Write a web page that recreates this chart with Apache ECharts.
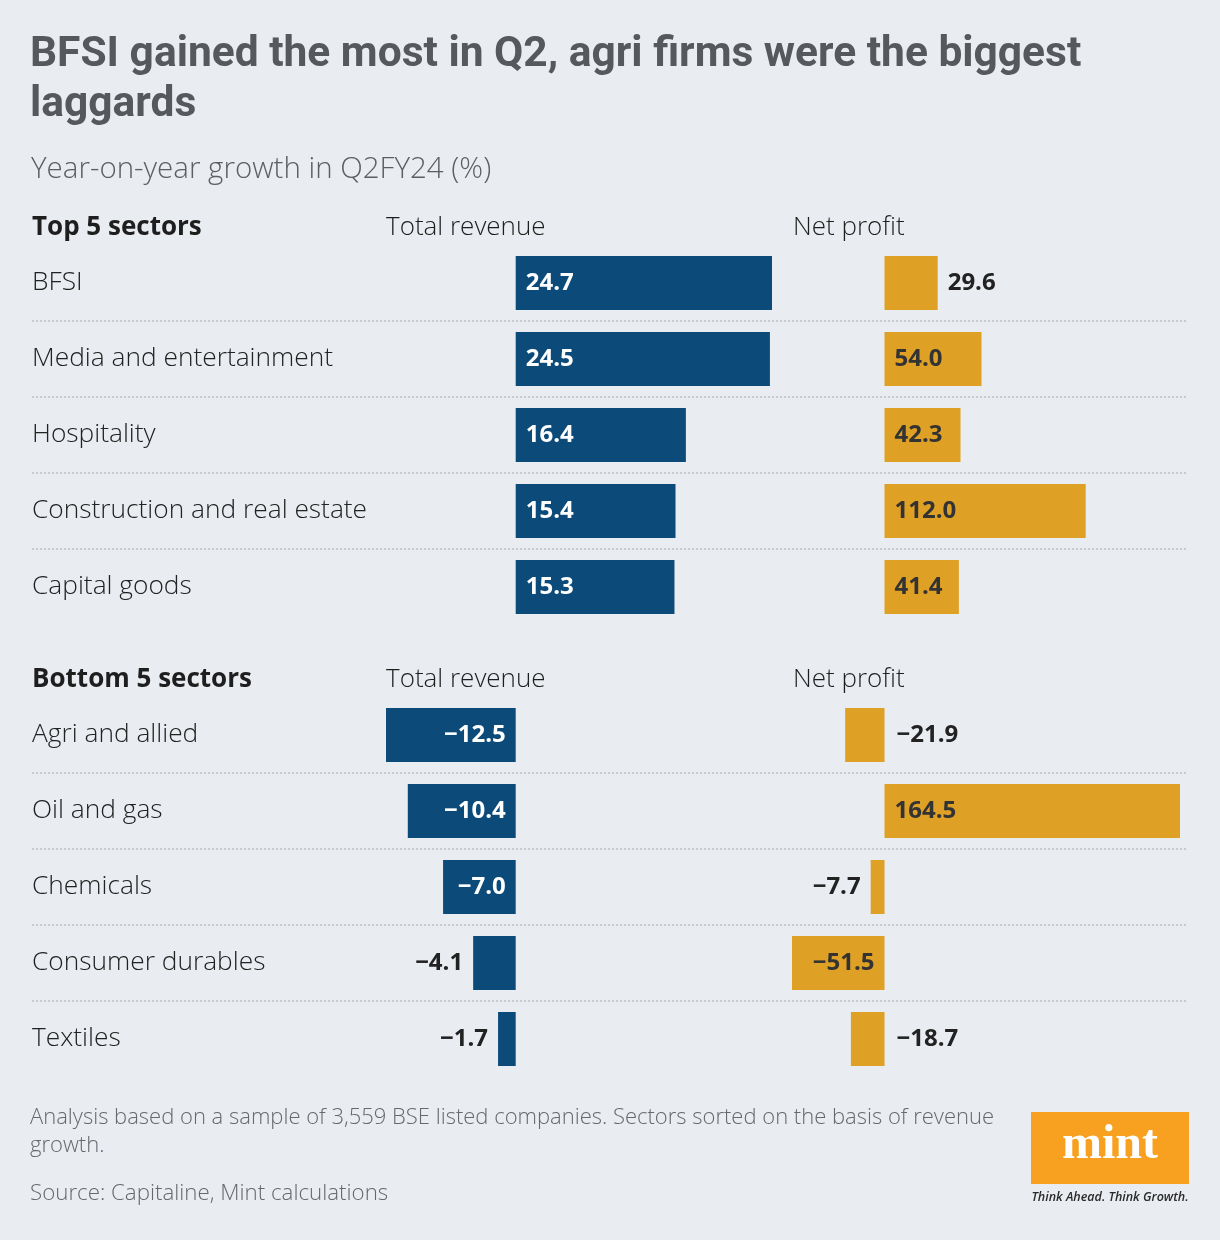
<!DOCTYPE html>
<html>
<head>
<meta charset="utf-8">
<script src="https://cdn.jsdelivr.net/npm/echarts@6/dist/echarts.min.js"></script>
<style>
html,body{margin:0;padding:0;background:#e9ecf0;}
#chart{width:1220px;height:1240px;}
</style>
</head>
<body>
<div id="chart"></div>
<script>
// ---- Data ----
const topSectors = ['BFSI', 'Media and entertainment', 'Hospitality', 'Construction and real estate', 'Capital goods'];
const topRevenue = [24.7, 24.5, 16.4, 15.4, 15.3];
const topProfit = [29.6, 54.0, 42.3, 112.0, 41.4];
const bottomSectors = ['Agri and allied', 'Oil and gas', 'Chemicals', 'Consumer durables', 'Textiles'];
const bottomRevenue = [-12.5, -10.4, -7.0, -4.1, -1.7];
const bottomProfit = [-21.9, 164.5, -7.7, -51.5, -18.7];

// label placement (styling): 'in' = inside at the zero end, 'far' = outside beyond bar end, 'zero' = outside on the zero side
const topRevenuePlace = ['in', 'in', 'in', 'in', 'in'];
const topProfitPlace = ['far', 'in', 'in', 'in', 'in'];
const bottomRevenuePlace = ['in', 'in', 'in', 'far', 'far'];
const bottomProfitPlace = ['zero', 'in', 'far', 'in', 'zero'];

const BLUE = '#0c4a79';
const GOLD = '#dfa026';
const FONT = '"Open Sans", "Noto Sans", sans-serif';

const fmt = v => (v < 0 ? '\u2212' : '') + Math.abs(v).toFixed(1);

function labelFor(v, place, insideColor) {
  let position, color = '#222';
  if (place === 'in') { position = v >= 0 ? 'insideLeft' : 'insideRight'; color = insideColor; }
  else if (place === 'far') { position = v >= 0 ? 'right' : 'left'; }
  else { position = v >= 0 ? 'left' : 'right'; }
  return {
    show: true, position: position, distance: position === 'right' && v < 0 ? 12 : 10,
    color: color, fontFamily: FONT, fontWeight: 'bold', fontSize: 24,
    formatter: p => fmt(p.value)
  };
}

function barData(values, places, insideColor) {
  return values.map((v, i) => ({ value: v, label: labelFor(v, places[i], insideColor) }));
}

const revMin = Math.min(...topRevenue, ...bottomRevenue);
const revMax = Math.max(...topRevenue, ...bottomRevenue);
const profMin = Math.min(...topProfit, ...bottomProfit);
const profMax = Math.max(...topProfit, ...bottomProfit);

const SEC_TOP = [245, 697];
const ROWH = 380;

const grids = [], xAxes = [], yAxes = [], series = [];
[[topSectors, topRevenue, topProfit, topRevenuePlace, topProfitPlace],
 [bottomSectors, bottomRevenue, bottomProfit, bottomRevenuePlace, bottomProfitPlace]].forEach((sec, s) => {
  const [cats, rev, prof, revPlace, profPlace] = sec;
  const top = SEC_TOP[s];
  // name / separator grid
  let gi = grids.length;
  grids.push({ left: 32, width: 1156, top: top, height: ROWH });
  xAxes.push({ gridIndex: gi, type: 'value', show: false, min: 0, max: 1 });
  yAxes.push({
    gridIndex: gi, type: 'category', data: cats, inverse: true,
    axisLine: { show: false }, axisTick: { show: false },
    axisLabel: { inside: true, margin: 0, color: '#222', fontFamily: FONT, fontSize: 26.3, fontWeight: 300, interval: 0 },
    splitLine: { show: true, interval: 0, showMinLine: false, showMaxLine: false,
      lineStyle: { color: '#c6c9ce', width: 2, type: [2, 2] } }
  });
  // revenue grid
  gi = grids.length;
  grids.push({ left: 386, width: 386, top: top, height: ROWH });
  xAxes.push({ gridIndex: gi, type: 'value', show: false, min: revMin, max: revMax });
  yAxes.push({ gridIndex: gi, type: 'category', data: cats, inverse: true, show: false });
  series.push({ type: 'bar', xAxisIndex: gi, yAxisIndex: gi, barWidth: 54, itemStyle: { color: BLUE },
    data: barData(rev, revPlace, '#ffffff'), silent: true });
  // profit grid
  gi = grids.length;
  grids.push({ left: 792, width: 388, top: top, height: ROWH });
  xAxes.push({ gridIndex: gi, type: 'value', show: false, min: profMin, max: profMax });
  yAxes.push({ gridIndex: gi, type: 'category', data: cats, inverse: true, show: false });
  series.push({ type: 'bar', xAxisIndex: gi, yAxisIndex: gi, barWidth: 54, itemStyle: { color: GOLD },
    data: barData(prof, profPlace, '#333333'), silent: true });
});

const hdr = (text, left, top, bold) => ({
  text: text, left: left, top: top, padding: 0,
  textStyle: { fontFamily: FONT, fontSize: 26, fontWeight: bold ? 'bold' : 300, color: '#1e1e1e', lineHeight: 34 }
});

const chart = echarts.init(document.getElementById('chart'), null, { renderer: 'canvas' });
chart.setOption({
  backgroundColor: '#e9ecf0',
  animation: false,
  title: [
    { text: 'BFSI gained the most in Q2, agri firms were the biggest\nlaggards', left: 30, top: 30, padding: 0,
      textStyle: { fontFamily: '"Liberation Sans Narrow", "Roboto", sans-serif', fontSize: 42.5, fontWeight: 'bold', color: '#55585d', lineHeight: 50 } },
    { text: 'Year-on-year growth in Q2FY24 (%)', left: 31, top: 151, padding: 0,
      textStyle: { fontFamily: FONT, fontSize: 29.5, fontWeight: 300, color: '#5b5e63', lineHeight: 38 } },
    hdr('Top 5 sectors', 32, 211, true),
    hdr('Total revenue', 386, 211, false),
    hdr('Net profit', 793, 211, false),
    hdr('Bottom 5 sectors', 32, 663, true),
    hdr('Total revenue', 386, 663, false),
    hdr('Net profit', 793, 663, false),
    { text: 'Analysis based on a sample of 3,559 BSE listed companies. Sectors sorted on the basis of revenue growth.',
      left: 30, top: 1104, padding: 0,
      textStyle: { fontFamily: FONT, fontSize: 22, fontWeight: 300, color: '#65686d', lineHeight: 28, width: 990, overflow: 'break' } },
    { text: 'Source: Capitaline, Mint calculations', left: 30, top: 1180, padding: 0,
      textStyle: { fontFamily: FONT, fontSize: 22.3, fontWeight: 300, color: '#65686d', lineHeight: 28 } }
  ],
  grid: grids,
  xAxis: xAxes,
  yAxis: yAxes,
  series: series,
  graphic: [
    { type: 'rect', left: 1031, top: 1112, shape: { width: 158, height: 72 }, style: { fill: '#f8a01f' }, silent: true },
    { type: 'text', x: 1110, y: 1146, style: { text: 'mint', fill: '#ffffff', font: 'bold 48px "Liberation Serif", "DejaVu Serif", serif', align: 'center', verticalAlign: 'middle' }, silent: true },
    { type: 'text', x: 1110, y: 1197, style: { text: 'Think Ahead. Think Growth.', fill: '#2a2a2a', font: 'italic 600 12.5px "Open Sans", sans-serif', align: 'center', verticalAlign: 'middle' }, silent: true }
  ]
});
</script>
</body>
</html>
